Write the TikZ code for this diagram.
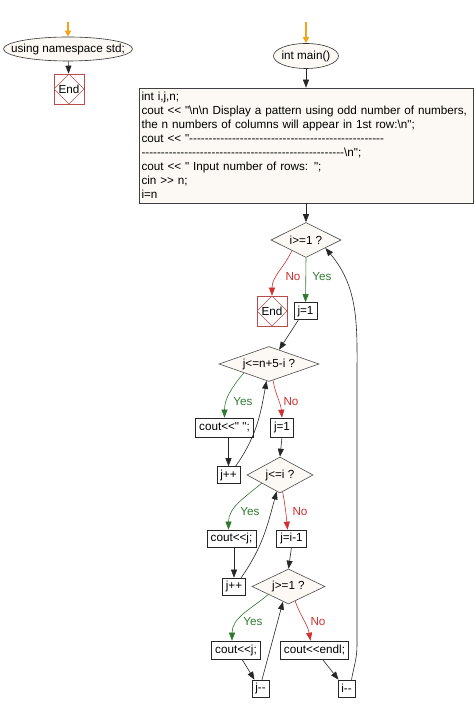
\documentclass[tikz,border=0pt]{standalone}
\usepackage{fontspec}
\newfontfamily\chartfont{Liberation Sans}[Ligatures=TeXOff]
\usepackage{xcolor}
\usepackage{tikz}
\usetikzlibrary{calc,positioning,arrows.meta,shapes.geometric}

\definecolor{boxfill}{HTML}{FCF9F4}
\definecolor{endred}{HTML}{B84C4C}
\definecolor{yesgreen}{HTML}{2F7A2F}
\definecolor{nored}{HTML}{D03030}
\definecolor{startorange}{HTML}{F5A31A}
\newcommand{\bs}{\textbackslash}
\newcommand{\tendash}{----------}

\tikzset{
  flow/.style={-{Triangle[length=8pt,width=6pt]},line width=0.6pt,draw=black!85},
  yesline/.style={flow,draw=yesgreen,-{Triangle[length=8pt,width=6pt,fill=yesgreen]}},
  noline/.style={flow,draw=nored,-{Triangle[length=8pt,width=6pt,fill=nored]}},
  startarrow/.style={-{Triangle[length=6pt,width=6pt]},line width=1.6pt,draw=startorange},
  terminal/.style={ellipse,draw=black!80,line width=0.6pt,fill=boxfill,inner xsep=-15pt,inner ysep=0pt},
  stmt/.style={rectangle,draw=black!85,line width=0.6pt,fill=white,inner xsep=3.5pt,inner ysep=1pt,minimum height=17pt},
  codebox/.style={rectangle,draw=black!75,line width=0.6pt,fill=boxfill,inner xsep=2.5pt,align=left},
  decision/.style={diamond,aspect=3,draw=black!70,line width=0.6pt,fill=boxfill,inner sep=0pt},
  endbox/.style={rectangle,draw=endred,line width=0.6pt,minimum size=30pt,inner sep=0pt,
    path picture={\draw[endred,line width=0.5pt] (path picture bounding box.north) -- (path picture bounding box.west)
      -- (path picture bounding box.south) -- (path picture bounding box.east) -- cycle;}},
  yeslabel/.style={text=yesgreen},
  nolabel/.style={text=nored}
}

\begin{document}
\begin{tikzpicture}[x=1pt,y=1pt,font=\chartfont\fontsize{11.7}{14}\selectfont]
  \useasboundingbox (0,0) rectangle (474,710);
  % namespace part on the left
  \coordinate (startA) at (68,688);
  \node (usingstd) [terminal,minimum width=129pt,minimum height=24pt] at (68,661) {using namespace std;};
  \node (endA) [endbox] at (69,621) {End};
  \draw[startarrow] (startA) -- (usingstd);
  \draw[flow] (usingstd) -- (endA);
  % main
  \coordinate (startB) at (306,688);
  \node (intmain) [terminal,minimum width=65pt,minimum height=25pt] at (306,654) {int main()};
  \node (code) [codebox,minimum width=334pt,minimum height=115pt,text width=329pt] at (306,564.5)
    {int i,j,n;\\
     cout << "\bs n\bs n Display a pattern using odd number of numbers,\\
     the n numbers of columns will appear in 1st row:\bs n";\\
     cout << "\tendash\tendash\tendash\tendash\tendash\\
     \tendash\tendash\tendash\tendash\tendash--\bs n";\\
     cout << " Input number of rows: ";\\
     cin >> n;\\
     i=n};
  \draw[startarrow] (startB) -- (intmain);
  \draw[flow] (intmain) -- (code);
  % outer loop on i
  \node (d1) [decision,minimum width=70pt,minimum height=35pt] at (306,470) {i>=1 ?};
  \node (endB) [endbox] at (272,399) {End};
  \node (j1a) [stmt] at (305.5,399) {j=1};
  \draw[flow] (code) -- (d1);
  \draw[noline] ($(d1.west)!0.6!(d1.south)$) to[out=-115,in=90] (endB.north);
  \draw[yesline] (d1.south) -- (j1a.north);
  \node (no1) [nolabel] at (293,433) {No};
  \node (yes1) [yeslabel] at (322,433) {Yes};
  % spaces
  \node (d2) [decision,minimum width=100pt,minimum height=35pt] at (269,346) {j<=n+5-i ?};
  \node (cout1) [stmt,minimum height=19pt] at (224.5,282.5) {cout<<" ";};
  \node (j1b) [stmt,minimum height=19pt] at (282,282.5) {j=1};
  \node (jpp1) [stmt] at (228.5,235) {j++};
  \draw[flow] ($(j1a.south)+(-7,0)$) -- ($(d2.north)!0.2!(d2.east)$);
  \draw[yesline] ($(d2.west)!0.5!(d2.south)$) to[out=-130,in=90] (cout1.north);
  \draw[noline] ($(d2.south)!0.08!(d2.east)$) to[out=-80,in=95] (j1b.north);
  \draw[flow] (cout1.south -| jpp1.north) -- (jpp1.north);
  \draw[flow] ($(jpp1.north)!0.6!(jpp1.north east)$) to[out=55,in=-100] ($(d2.south)!0.05!(d2.west)$);
  \node (yes2) [yeslabel] at (243,308) {Yes};
  \node (no2) [nolabel] at (291,308) {No};
  % numbers going up
  \node (d3) [decision,minimum width=66pt,minimum height=36pt] at (280,235) {j<=i ?};
  \node (coutj1) [stmt] at (231.5,171.5) {cout<<j;};
  \node (jim1) [stmt] at (291.5,171.5) {j=i-1};
  \node (jpp2) [stmt] at (234,123.5) {j++};
  \draw[flow] (j1b.south) -- (d3.north);
  \draw[yesline] ($(d3.west)!0.45!(d3.south)$) to[out=-140,in=90] ($(coutj1.north)+(-3,0)$);
  \draw[noline] ($(d3.south)!0.08!(d3.east)$) to[out=-80,in=95] ($(jim1.north)+(-4,0)$);
  \draw[flow] (coutj1.south -| jpp2.north) -- (jpp2.north);
  \draw[flow] ($(jpp2.north)!0.6!(jpp2.north east)$) to[out=55,in=-105] ($(d3.south)!0.1!(d3.west)$);
  \node (yes3) [yeslabel] at (250,198) {Yes};
  \node (no3) [nolabel] at (300,198) {No};
  % numbers going down
  \node (d4) [decision,minimum width=73pt,minimum height=35pt] at (288.5,123.5) {j>=1 ?};
  \node (coutj2) [stmt,minimum height=18pt] at (236,60) {cout<<j;};
  \node (coutendl) [stmt,minimum height=18pt] at (314.5,60) {cout<<endl;};
  \node (jmm) [stmt] at (260.5,21.5) {j--};
  \node (imm) [stmt] at (346.5,21.5) {i--};
  \draw[flow] (jim1.south) -- (d4.north);
  \draw[yesline] ($(d4.west)!0.45!(d4.south)$) to[out=-140,in=90] ($(coutj2.north)+(-4,0)$);
  \draw[noline] ($(d4.south)!0.18!(d4.east)$) to[out=-70,in=100] ($(coutendl.north)+(-4,0)$);
  \draw[flow] ($(coutj2.south)+(6,0)$) -- ($(jmm.north)+(-6,0)$);
  \draw[flow] ($(coutendl.south)+(8,0)$) -- ($(imm.north)+(-8,0)$);
  \draw[flow] ($(jmm.north)+(1.5,0)$) -- ($(d4.south)!0.15!(d4.west)$);
  \node (yes4) [yeslabel] at (253,88) {Yes};
  \node (no4) [nolabel] at (318,88) {No};
  % back to i>=1
  \coordinate (loopA) at (357,65);
  \coordinate (loopB) at (357,330);
  \draw[flow] ($(imm.north)+(5,0)$) to[out=80,in=-90] (loopA) -- (loopB) to[out=90,in=-50] ($(d1.east)!0.45!(d1.south)$);
\end{tikzpicture}
\end{document}
